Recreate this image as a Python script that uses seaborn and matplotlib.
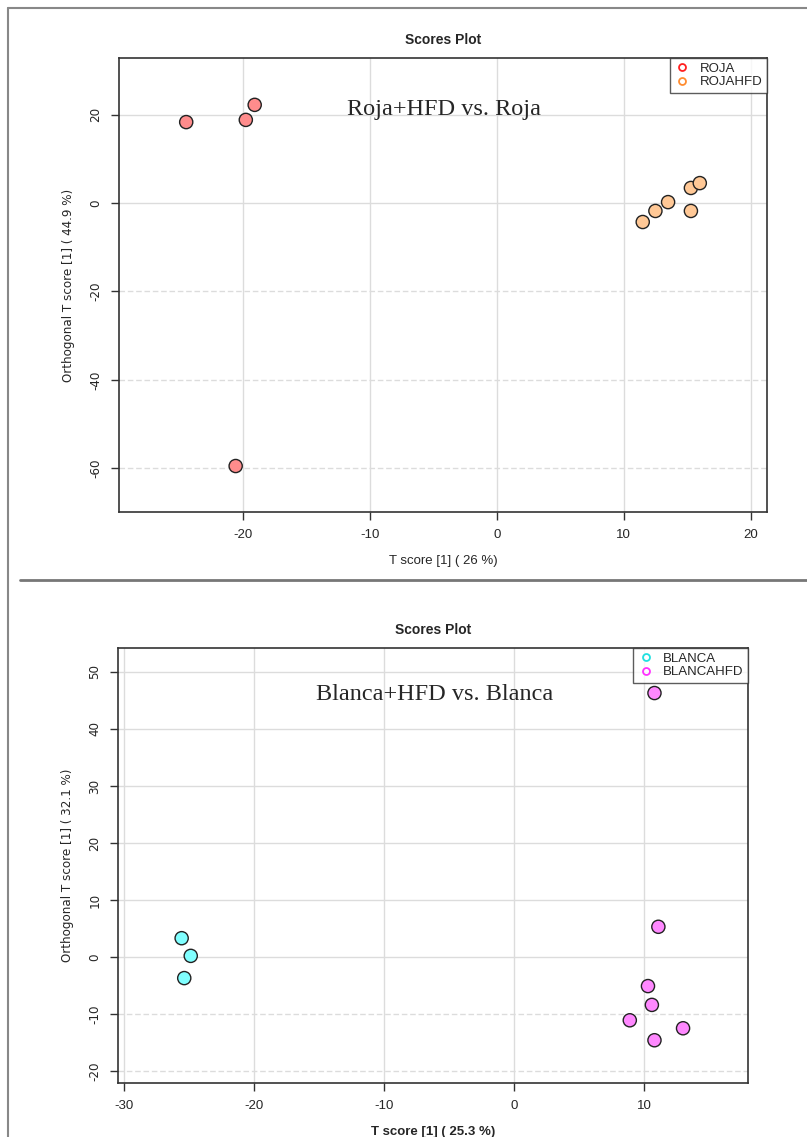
import matplotlib
matplotlib.use("Agg")
import matplotlib.pyplot as plt
from matplotlib.lines import Line2D
import seaborn as sns
import pandas as pd

# ---- data: top panel (Roja) ----
roja_x = [-24.5, -19.8, -19.1, -20.6]
roja_y = [18.3, 18.8, 22.2, -59.5]
rojahfd_x = [11.5, 12.5, 13.5, 15.3, 15.3, 16.0]
rojahfd_y = [-4.3, -1.8, 0.2, -1.8, 3.4, 4.5]

# ---- data: bottom panel (Blanca) ----
blanca_x = [-25.6, -24.9, -25.4]
blanca_y = [3.3, 0.2, -3.7]
blancahfd_x = [10.8, 11.1, 10.3, 10.6, 8.9, 13.0, 10.8]
blancahfd_y = [46.3, 5.3, -5.1, -8.4, -11.1, -12.5, -14.6]

top_xticks = [-20, -10, 0, 10, 20]
top_yticks = [-60, -40, -20, 0, 20]
bot_xticks = [-30, -20, -10, 0, 10]
bot_yticks = [-20, -10, 0, 10, 20, 30, 40, 50]

sns.set_theme(style="white")
plt.rcParams['font.family'] = ['Liberation Sans', 'DejaVu Sans']

fig = plt.figure(figsize=(8.07, 11.37), dpi=100)

def make_df(xa, ya, xb, yb, la, lb):
    return pd.DataFrame({
        "x": list(xa) + list(xb),
        "y": list(ya) + list(yb),
        "g": [la] * len(xa) + [lb] * len(xb),
    })

NARROW = dict(family="DejaVu Sans", fontstretch="condensed")

def panel(rect, df, labels, fills, legcols, xlim, ylim, xticks, yticks,
          xlabel, ylabel, note, note_xy, xlabel_bold=False):
    ax = fig.add_axes(rect)
    for t in xticks:
        ax.axvline(t, color="#dcdcdc", lw=1.0, zorder=0)
    for t in yticks:
        ax.axhline(t, color="#dcdcdc", lw=1.0, zorder=0,
                   ls="-" if t >= 0 else (0, (4, 2)))
    sns.scatterplot(data=df, x="x", y="y", hue="g", hue_order=labels,
                    palette=dict(zip(labels, fills)), s=90,
                    edgecolor="#222222", linewidth=1.0, legend=False,
                    ax=ax, zorder=3)
    ax.set_xlim(*xlim)
    ax.set_ylim(*ylim)
    ax.set_xticks(xticks)
    ax.set_yticks(yticks)
    ax.set_xticklabels([str(t) for t in xticks], fontsize=9.5)
    ax.set_yticklabels([str(t) for t in yticks], fontsize=9.5, rotation=90,
                       va="center", **NARROW)
    ax.tick_params(axis="both", direction="out", length=6, width=1,
                   color="#333333", bottom=True, left=True, pad=6)
    for s in ax.spines.values():
        s.set_color("#333333")
        s.set_linewidth(1.2)
    ax.set_xlabel(xlabel, fontsize=9.5, labelpad=10,
                  fontweight="bold" if xlabel_bold else "normal")
    ax.set_ylabel(ylabel, fontsize=9.5, labelpad=10, **NARROW)
    ax.set_title("Scores Plot", fontsize=10, fontweight="bold", pad=10)
    handles = [Line2D([], [], marker="o", ls="", markerfacecolor="none",
                      markeredgecolor=c, markersize=5, markeredgewidth=1.3)
               for c in legcols]
    leg = ax.legend(handles, labels, loc="upper right", fontsize=9.5,
                    frameon=True, fancybox=False, borderaxespad=0,
                    handletextpad=0.7, borderpad=0.35, labelspacing=0.1,
                    handlelength=1.2)
    leg.get_frame().set_edgecolor("#333333")
    leg.get_frame().set_linewidth(1.0)
    ax.text(note_xy[0], note_xy[1], note, transform=fig.transFigure,
            ha="center", va="center", fontsize=17.5,
            family=["Liberation Serif", "DejaVu Serif"])
    return ax

df_top = make_df(roja_x, roja_y, rojahfd_x, rojahfd_y, "ROJA", "ROJAHFD")
panel([119/807, 1 - 512/1137, 648/807, 454/1137], df_top,
      ["ROJA", "ROJAHFD"], ["#ff8c8c", "#ffc896"], ["#ff2020", "#ff8c30"],
      (-29.8, 21.3), (-69.9, 32.8), top_xticks, top_yticks,
      "T score [1] ( 26 %)", "Orthogonal T score [1] ( 44.9 %)",
      "Roja+HFD vs. Roja", (444/807, 1 - 110/1137))

df_bot = make_df(blanca_x, blanca_y, blancahfd_x, blancahfd_y, "BLANCA", "BLANCAHFD")
panel([118/807, 1 - 1083/1137, 630/807, 435/1137], df_bot,
      ["BLANCA", "BLANCAHFD"], ["#80ffff", "#ff88ff"], ["#20e0e0", "#ff30ff"],
      (-30.5, 18.0), (-22.1, 54.2), bot_xticks, bot_yticks,
      "T score [1] ( 25.3 %)", "Orthogonal T score [1] ( 32.1 %)",
      "Blanca+HFD vs. Blanca", (435/807, 1 - 694/1137), xlabel_bold=True)

# page frame lines
H, W = 1137, 807
fig.add_artist(Line2D([8/W, 8/W], [0, 1 - 8/H], color="#888888", lw=1.5,
                      transform=fig.transFigure))
fig.add_artist(Line2D([8/W, 1], [1 - 8/H, 1 - 8/H], color="#888888", lw=1.5,
                      transform=fig.transFigure))
fig.add_artist(Line2D([20/W, 1], [1 - 580/H, 1 - 580/H], color="#777777", lw=2,
                      transform=fig.transFigure))

fig.savefig("out.png", dpi=100)
